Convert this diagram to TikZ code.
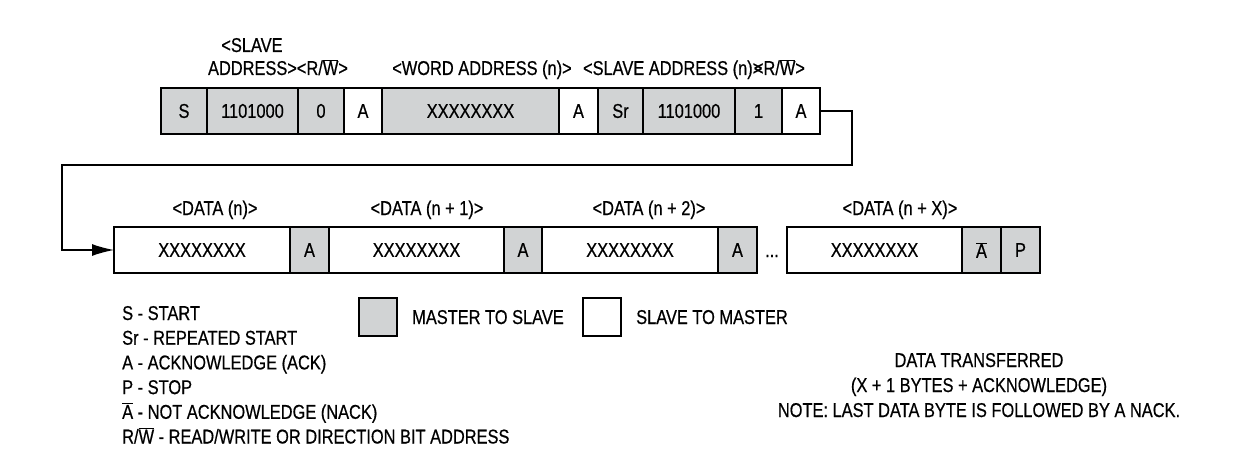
\documentclass[tikz,border=0pt]{standalone}
\usepackage{fontspec}
\setmainfont[FakeStretch=0.82,FakeBold=0.5]{Liberation Sans}
\usepackage{tikz}
\usetikzlibrary{positioning,arrows.meta}

\definecolor{mgray}{RGB}{209,211,212}
\newcommand{\ovl}[1]{$\overline{\mbox{#1}}$}

\begin{document}
\begin{tikzpicture}[x=1pt,y=-1pt,font=\fontsize{20}{24}\selectfont,
		bit/.style={draw, line width=1.2pt, minimum height=46pt, inner sep=0pt, outer sep=0pt},
		ms/.style={bit, fill=mgray},
		sm/.style={bit, fill=white},
		lbl/.style={inner sep=0pt, text height=14pt, text depth=0pt}]
	\useasboundingbox (0,0) rectangle (1248,476);

	% first frame: write word address, then repeated start
	\node[ms, minimum width=46pt, anchor=west] (s) at (161,111) {S};
	\node[ms, minimum width=91pt, right=0pt of s] (sla) {1101000};
	\node[ms, minimum width=46pt, right=0pt of sla] (wr) {0};
	\node[sm, minimum width=38pt, right=0pt of wr] (ack1) {A};
	\node[ms, minimum width=177pt, right=0pt of ack1] (word) {XXXXXXXX};
	\node[sm, minimum width=39pt, right=0pt of word] (ack2) {A};
	\node[ms, minimum width=45pt, right=0pt of ack2] (sr) {Sr};
	\node[ms, minimum width=92pt, right=0pt of sr] (slb) {1101000};
	\node[ms, minimum width=47pt, right=0pt of slb] (rd) {1};
	\node[sm, minimum width=38pt, right=0pt of rd] (ack3) {A};

	\node[lbl] (lslave) at (252,45) {<SLAVE};
	\node[lbl] (laddr) at (278,68) {ADDRESS><R/\ovl{W}>};
	\node[lbl] (lword) at (482,68) {<WORD ADDRESS (n)>};
	\node[lbl] (lslaven) at (694,68) {<SLAVE ADDRESS (n)>\kern-0.42em<R/\ovl{W}>};

	% second frame: data bytes read back
	\node[sm, minimum width=176pt, anchor=west] (d0) at (114,250) {XXXXXXXX};
	\node[ms, minimum width=39pt, right=0pt of d0] (a0) {A};
	\node[sm, minimum width=175pt, right=0pt of a0] (d1) {XXXXXXXX};
	\node[ms, minimum width=38pt, right=0pt of d1] (a1) {A};
	\node[sm, minimum width=176pt, right=0pt of a1] (d2) {XXXXXXXX};
	\node[ms, minimum width=39pt, right=0pt of d2] (a2) {A};
	\node[anchor=base, inner sep=0pt] (dots) at (772,257) {...};
	\node[sm, minimum width=175pt, anchor=west] (dx) at (787,250) {XXXXXXXX};
	\node[ms, minimum width=39pt, right=0pt of dx] (nack) {\ovl{A}};
	\node[ms, minimum width=39pt, right=0pt of nack] (p) {P};

	\node[lbl] (ld0) at (215,208) {<DATA (n)>};
	\node[lbl] (ld1) at (427,208) {<DATA (n + 1)>};
	\node[lbl] (ld2) at (649,208) {<DATA (n + 2)>};
	\node[lbl] (ldx) at (900,208) {<DATA (n + X)>};

	% wrap-around connector
	\coordinate (ur) at (852,165);
	\coordinate (ul) at (62,165);
	\draw[line width=1.4pt, -{Latex[length=22pt,width=12pt]}] (ack3.east) -| (ur) -- (ul) |- (d0.west);

	% key
	\foreach \txt [count=\i] in {S - START, Sr - REPEATED START, A - ACKNOWLEDGE (ACK), P - STOP,
			\ovl{A} - NOT ACKNOWLEDGE (NACK), R/\ovl{W} - READ/WRITE OR DIRECTION BIT ADDRESS}
		\node[lbl, anchor=west] (key\i) at (122,{313+24.7*(\i-1)}) {\txt};

	\node[ms, minimum width=38pt, minimum height=38pt] (msbox) at (378,317) {};
	\node[lbl, anchor=west] (mslbl) at (412,317) {MASTER TO SLAVE};
	\node[sm, minimum width=38pt, minimum height=38pt] (smbox) at (602,317) {};
	\node[lbl, anchor=west] (smlbl) at (636,317) {SLAVE TO MASTER};

	% note
	\node[lbl] (note1) at (979,360) {DATA TRANSFERRED};
	\node[lbl] (note2) at (979,385) {(X + 1 BYTES + ACKNOWLEDGE)};
	\node[lbl] (note3) at (979,410) {NOTE: LAST DATA BYTE IS FOLLOWED BY A NACK.};
\end{tikzpicture}
\end{document}
